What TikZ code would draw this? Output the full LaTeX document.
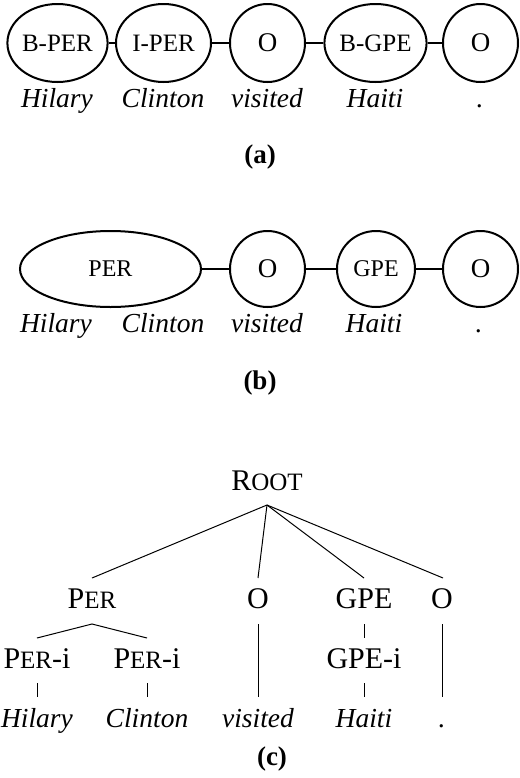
\documentclass[tikz,border=0pt]{standalone}
\usepackage{fontspec}
\setmainfont{Liberation Serif}[
  UprightFont=*,
  ItalicFont=* Italic,
  BoldFont=* Bold,
  BoldItalicFont=* Bold Italic]
\usetikzlibrary{shapes.geometric}
\newcommand{\fsc}[1]{{\fontsize{12.5}{15}\selectfont #1}}
\begin{document}
\begin{tikzpicture}[x=0.5pt,y=-0.5pt,
  tagbox/.style={draw,ellipse,line width=1pt,inner sep=0pt,minimum width=47.5pt,minimum height=39pt,font=\fontsize{12.5}{15}\selectfont},
  tagcirc/.style={tagbox,minimum width=37.5pt,font=\fontsize{13.5}{15}\selectfont},
  tagboxb/.style={draw,ellipse,line width=1pt,inner sep=0pt,minimum height=38pt,font=\fontsize{12}{14}\selectfont},
  link/.style={line width=1pt},
  word/.style={anchor=base,inner sep=0pt,font=\fontsize{13.75}{16}\selectfont\itshape},
  caption/.style={anchor=base,inner sep=0pt,font=\fontsize{13.5}{16}\selectfont\bfseries},
  tlabel/.style={anchor=base,inner sep=0pt,font=\fontsize{15}{18}\selectfont},
  edge/.style={line width=0.5pt}
]
\useasboundingbox (0,0) rectangle (520,778);

% (a) BIO tagging chain
\node[tagbox]  (a1) at (57.5,43)  {B-PER};
\node[tagbox]  (a2) at (163.5,43) {I-PER};
\node[tagcirc] (a3) at (267.5,43) {O};
\node[tagbox]  (a4) at (375.5,43) {B-GPE};
\node[tagcirc] (a5) at (480.5,43) {O};
\draw[link] (a1) -- (a2);
\draw[link] (a2) -- (a3);
\draw[link] (a3) -- (a4);
\draw[link] (a4) -- (a5);
\node[word] (aw1) at (57,107)  {Hilary};
\node[word] (aw2) at (163,107) {Clinton};
\node[word] (aw3) at (267,107) {visited};
\node[word] (aw4) at (375,107) {Haiti};
\node[word] (aw5) at (480,107) {.};
\node[caption] (capa) at (260,163) {(a)};

% (b) segment-level chain
\node[tagboxb,minimum width=90.5pt] (b1) at (110.5,269) {PER};
\node[tagboxb,minimum width=37.5pt,font=\fontsize{13.5}{15}\selectfont] (b2) at (267.5,269) {O};
\node[tagboxb,minimum width=39pt]   (b3) at (376,269)   {GPE};
\node[tagboxb,minimum width=37.5pt,font=\fontsize{13.5}{15}\selectfont] (b4) at (480.5,269) {O};
\draw[link] (b1) -- (b2);
\draw[link] (b2) -- (b3);
\draw[link] (b3) -- (b4);
\node[word] (bw1) at (56,332)  {Hilary};
\node[word] (bw2) at (163,332) {Clinton};
\node[word] (bw3) at (267,332) {visited};
\node[word] (bw4) at (374,332) {Haiti};
\node[word] (bw5) at (479,332) {.};
\node[caption] (capb) at (260,389) {(b)};

% (c) tree
\node[tlabel] (root) at (267,490) {R\fsc{OOT}};
\node[tlabel] (per)  at (92,608)  {P\fsc{ER}};
\node[tlabel] (o1)   at (258,608) {O};
\node[tlabel] (gpe)  at (364,608) {GPE};
\node[tlabel] (o2)   at (442,608) {O};
\node[tlabel] (pi1)  at (37,668)  {P\fsc{ER}-i};
\node[tlabel] (pi2)  at (147,668) {P\fsc{ER}-i};
\node[tlabel] (gi)   at (364,668) {GPE-i};
\node[word] (cw1) at (37,727)  {Hilary};
\node[word] (cw2) at (147,727) {Clinton};
\node[word] (cw3) at (258,727) {visited};
\node[word] (cw4) at (364,727) {Haiti};
\node[word] (cw5) at (442,727) {.};
\node[caption] (capc) at (272,765) {(c)};

\coordinate (rootb) at (267,505);
\coordinate (pert) at (92,578);
\coordinate (o1t) at (258,578);
\coordinate (gpet) at (364,578);
\coordinate (o2t) at (443,578);
\draw[edge] (rootb) -- (pert);
\draw[edge] (rootb) -- (o1t);
\draw[edge] (rootb) -- (gpet);
\draw[edge] (rootb) -- (o2t);

\coordinate (perb) at (92,624);
\coordinate (pi1t) at (37,638);
\coordinate (pi2t) at (147,638);
\draw[edge] (pi1t) -- (perb) -- (pi2t);

\coordinate (o1b) at (258,624);
\coordinate (cw3t) at (258,697);
\draw[edge] (o1b) -- (cw3t);
\coordinate (gpeb) at (364,624);
\coordinate (git) at (364,638);
\draw[edge] (gpeb) -- (git);
\coordinate (o2b) at (442,624);
\coordinate (cw5t) at (442,697);
\draw[edge] (o2b) -- (cw5t);

\coordinate (pi1b) at (37,683);
\coordinate (cw1t) at (37,697);
\draw[edge] (pi1b) -- (cw1t);
\coordinate (pi2b) at (147,683);
\coordinate (cw2t) at (147,697);
\draw[edge] (pi2b) -- (cw2t);
\coordinate (gib) at (364,683);
\coordinate (cw4t) at (364,697);
\draw[edge] (gib) -- (cw4t);
\end{tikzpicture}
\end{document}
